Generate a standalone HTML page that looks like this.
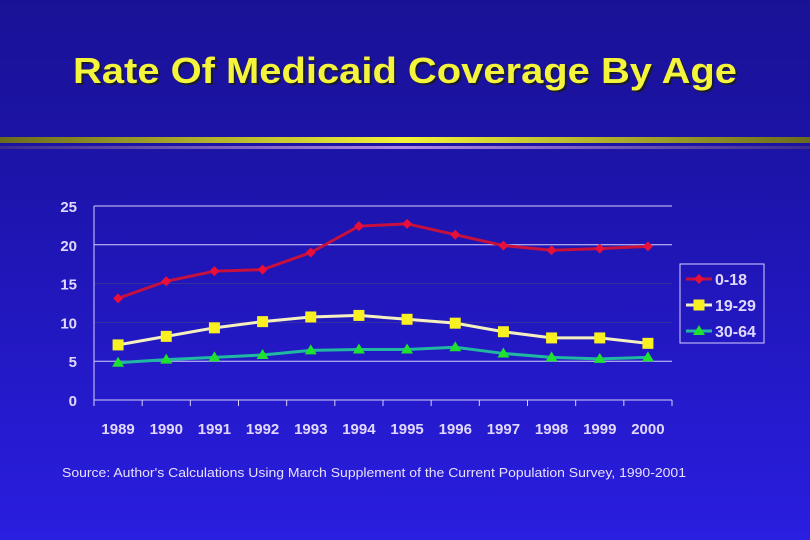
<!DOCTYPE html>
<html><head><meta charset="utf-8"><style>
html,body{margin:0;padding:0;width:810px;height:540px;overflow:hidden}
svg{display:block}
text{font-family:"Liberation Sans",Arial,sans-serif}
</style></head><body>
<svg id="chart" width="810" height="540" viewBox="0 0 810 540">
<defs>
<linearGradient id="bg" x1="0" y1="0" x2="0" y2="1">
<stop offset="0" stop-color="#1a1296"/><stop offset="0.3" stop-color="#1c13a8"/><stop offset="1" stop-color="#2a1ee0"/>
</linearGradient>
<linearGradient id="yl" x1="0" y1="0" x2="1" y2="0">
<stop offset="0" stop-color="#6a6a20"/><stop offset="0.5" stop-color="#f4f43a"/><stop offset="1" stop-color="#6a6a20"/>
</linearGradient>
<linearGradient id="pl" x1="0" y1="0" x2="1" y2="0">
<stop offset="0" stop-color="#3a2a90"/><stop offset="0.5" stop-color="#b088e8"/><stop offset="1" stop-color="#3a2a90"/>
</linearGradient>
</defs>
<rect width="810" height="540" fill="url(#bg)"/>
<text x="407" y="85" text-anchor="middle" font-size="36" font-weight="bold" fill="#1a1a30" textLength="664" lengthAdjust="spacingAndGlyphs">Rate Of Medicaid Coverage By Age</text>
<text x="405" y="83" text-anchor="middle" font-size="36" font-weight="bold" fill="#f4f43c" textLength="664" lengthAdjust="spacingAndGlyphs">Rate Of Medicaid Coverage By Age</text>
<rect x="0" y="137" width="810" height="6" fill="url(#yl)"/>
<rect x="0" y="146" width="810" height="3" fill="url(#pl)"/>
<g id="plot"></g>
<text x="62" y="477" font-size="13" fill="#e8e0ff" textLength="624" lengthAdjust="spacingAndGlyphs">Source: Author's Calculations Using March Supplement of the Current Population Survey, 1990-2001</text>
</svg>
<script>
const categories=["1989","1990","1991","1992","1993","1994","1995","1996","1997","1998","1999","2000"];
const seriesNames=["0-18","19-29","30-64"];
const s0_18=[13.1,15.3,16.6,16.8,19.0,22.4,22.7,21.3,19.9,19.3,19.5,19.8];
const s19_29=[7.1,8.2,9.3,10.1,10.7,10.9,10.4,9.9,8.8,8.0,8.0,7.3];
const s30_64=[4.8,5.2,5.5,5.8,6.4,6.5,6.5,6.8,6.0,5.5,5.3,5.5];
const yTicks=[0,5,10,15,20,25];

const NS="http://www.w3.org/2000/svg";
const g=document.getElementById('plot');
const X0=94,X1=672,Y0=400,Y1=206,YMAX=25;
const bw=(X1-X0)/categories.length;
const xs=i=>X0+bw*(i+0.5);
const ys=v=>Y0-(v/YMAX)*(Y0-Y1);
function mk(t,a){const e=document.createElementNS(NS,t);for(const k in a)e.setAttribute(k,a[k]);g.appendChild(e);return e;}

yTicks.forEach(t=>{
  if(t>0){const l=mk('line',{x1:X0,x2:X1,y1:ys(t),y2:ys(t),stroke:(t===15||t===10)?'#3a30a0':'#d8d0ff','stroke-width':1});
  
  }
  const tx=mk('text',{x:77,y:ys(t)+6,'text-anchor':'end','font-size':15,'font-weight':'bold',fill:'#e0d8ff'});
  tx.textContent=t;
  
  
});
let ax=mk('line',{x1:X0,x2:X0,y1:Y1,y2:Y0,stroke:'#d8d0ff','stroke-width':1});


ax=mk('line',{x1:X0,x2:X1,y1:Y0,y2:Y0,stroke:'#d8d0ff','stroke-width':1});


for(let i=0;i<=categories.length;i++){
  const tk=mk('line',{x1:X0+bw*i,x2:X0+bw*i,y1:Y0,y2:Y0+6,stroke:'#d8d0ff'});
  
  
}
categories.forEach((c,i)=>{
  const tx=mk('text',{x:xs(i),y:434,'text-anchor':'middle','font-size':15,'font-weight':'bold',fill:'#e0d8ff'});
  tx.textContent=c;
  
  
});

function marker(kind,x,y,color){
  let e;
  if(kind==='diamond')e=mk('polygon',{points:`${x},${y-5} ${x+5},${y} ${x},${y+5} ${x-5},${y}`,fill:color});
  else if(kind==='square')e=mk('rect',{x:x-5.5,y:y-5.5,width:11,height:11,fill:color});
  else e=mk('polygon',{points:`${x},${y-6} ${x+6},${y+4} ${x-6},${y+4}`,fill:color});
  return e;
}
const series=[
  {name:'0-18',data:s0_18,line:'#c8103c',mark:'#e8103a',kind:'diamond',key:'0-18'},
  {name:'19-29',data:s19_29,line:'#f4f0c0',mark:'#f8f020',kind:'square',key:'19-29'},
  {name:'30-64',data:s30_64,line:'#20b8a0',mark:'#20e030',kind:'triangle',key:'30-64'}
];
series.forEach((s,si)=>{
  const p=mk('polyline',{points:s.data.map((v,i)=>xs(i)+','+ys(v)).join(' '),fill:'none',stroke:s.line,'stroke-width':3});
  
  
  s.data.forEach((v,i)=>{
    const m=marker(s.kind,xs(i),ys(v),s.mark);
    
    
  });
  const ly=279+si*26;
  const ll=mk('line',{x1:686,x2:712,y1:ly,y2:ly,stroke:s.line,'stroke-width':3});
  
  
  const lm=marker(s.kind,699,ly,s.mark);
  
  
  const lt=mk('text',{x:715,y:ly+6,'font-size':16,'font-weight':'bold',fill:'#e0d8ff'});
  lt.textContent=s.name;
  
  
});
const lb=mk('rect',{x:680,y:264,width:84,height:79,fill:'none',stroke:'#d8d0ff','stroke-width':1});


</script>
</body></html>
